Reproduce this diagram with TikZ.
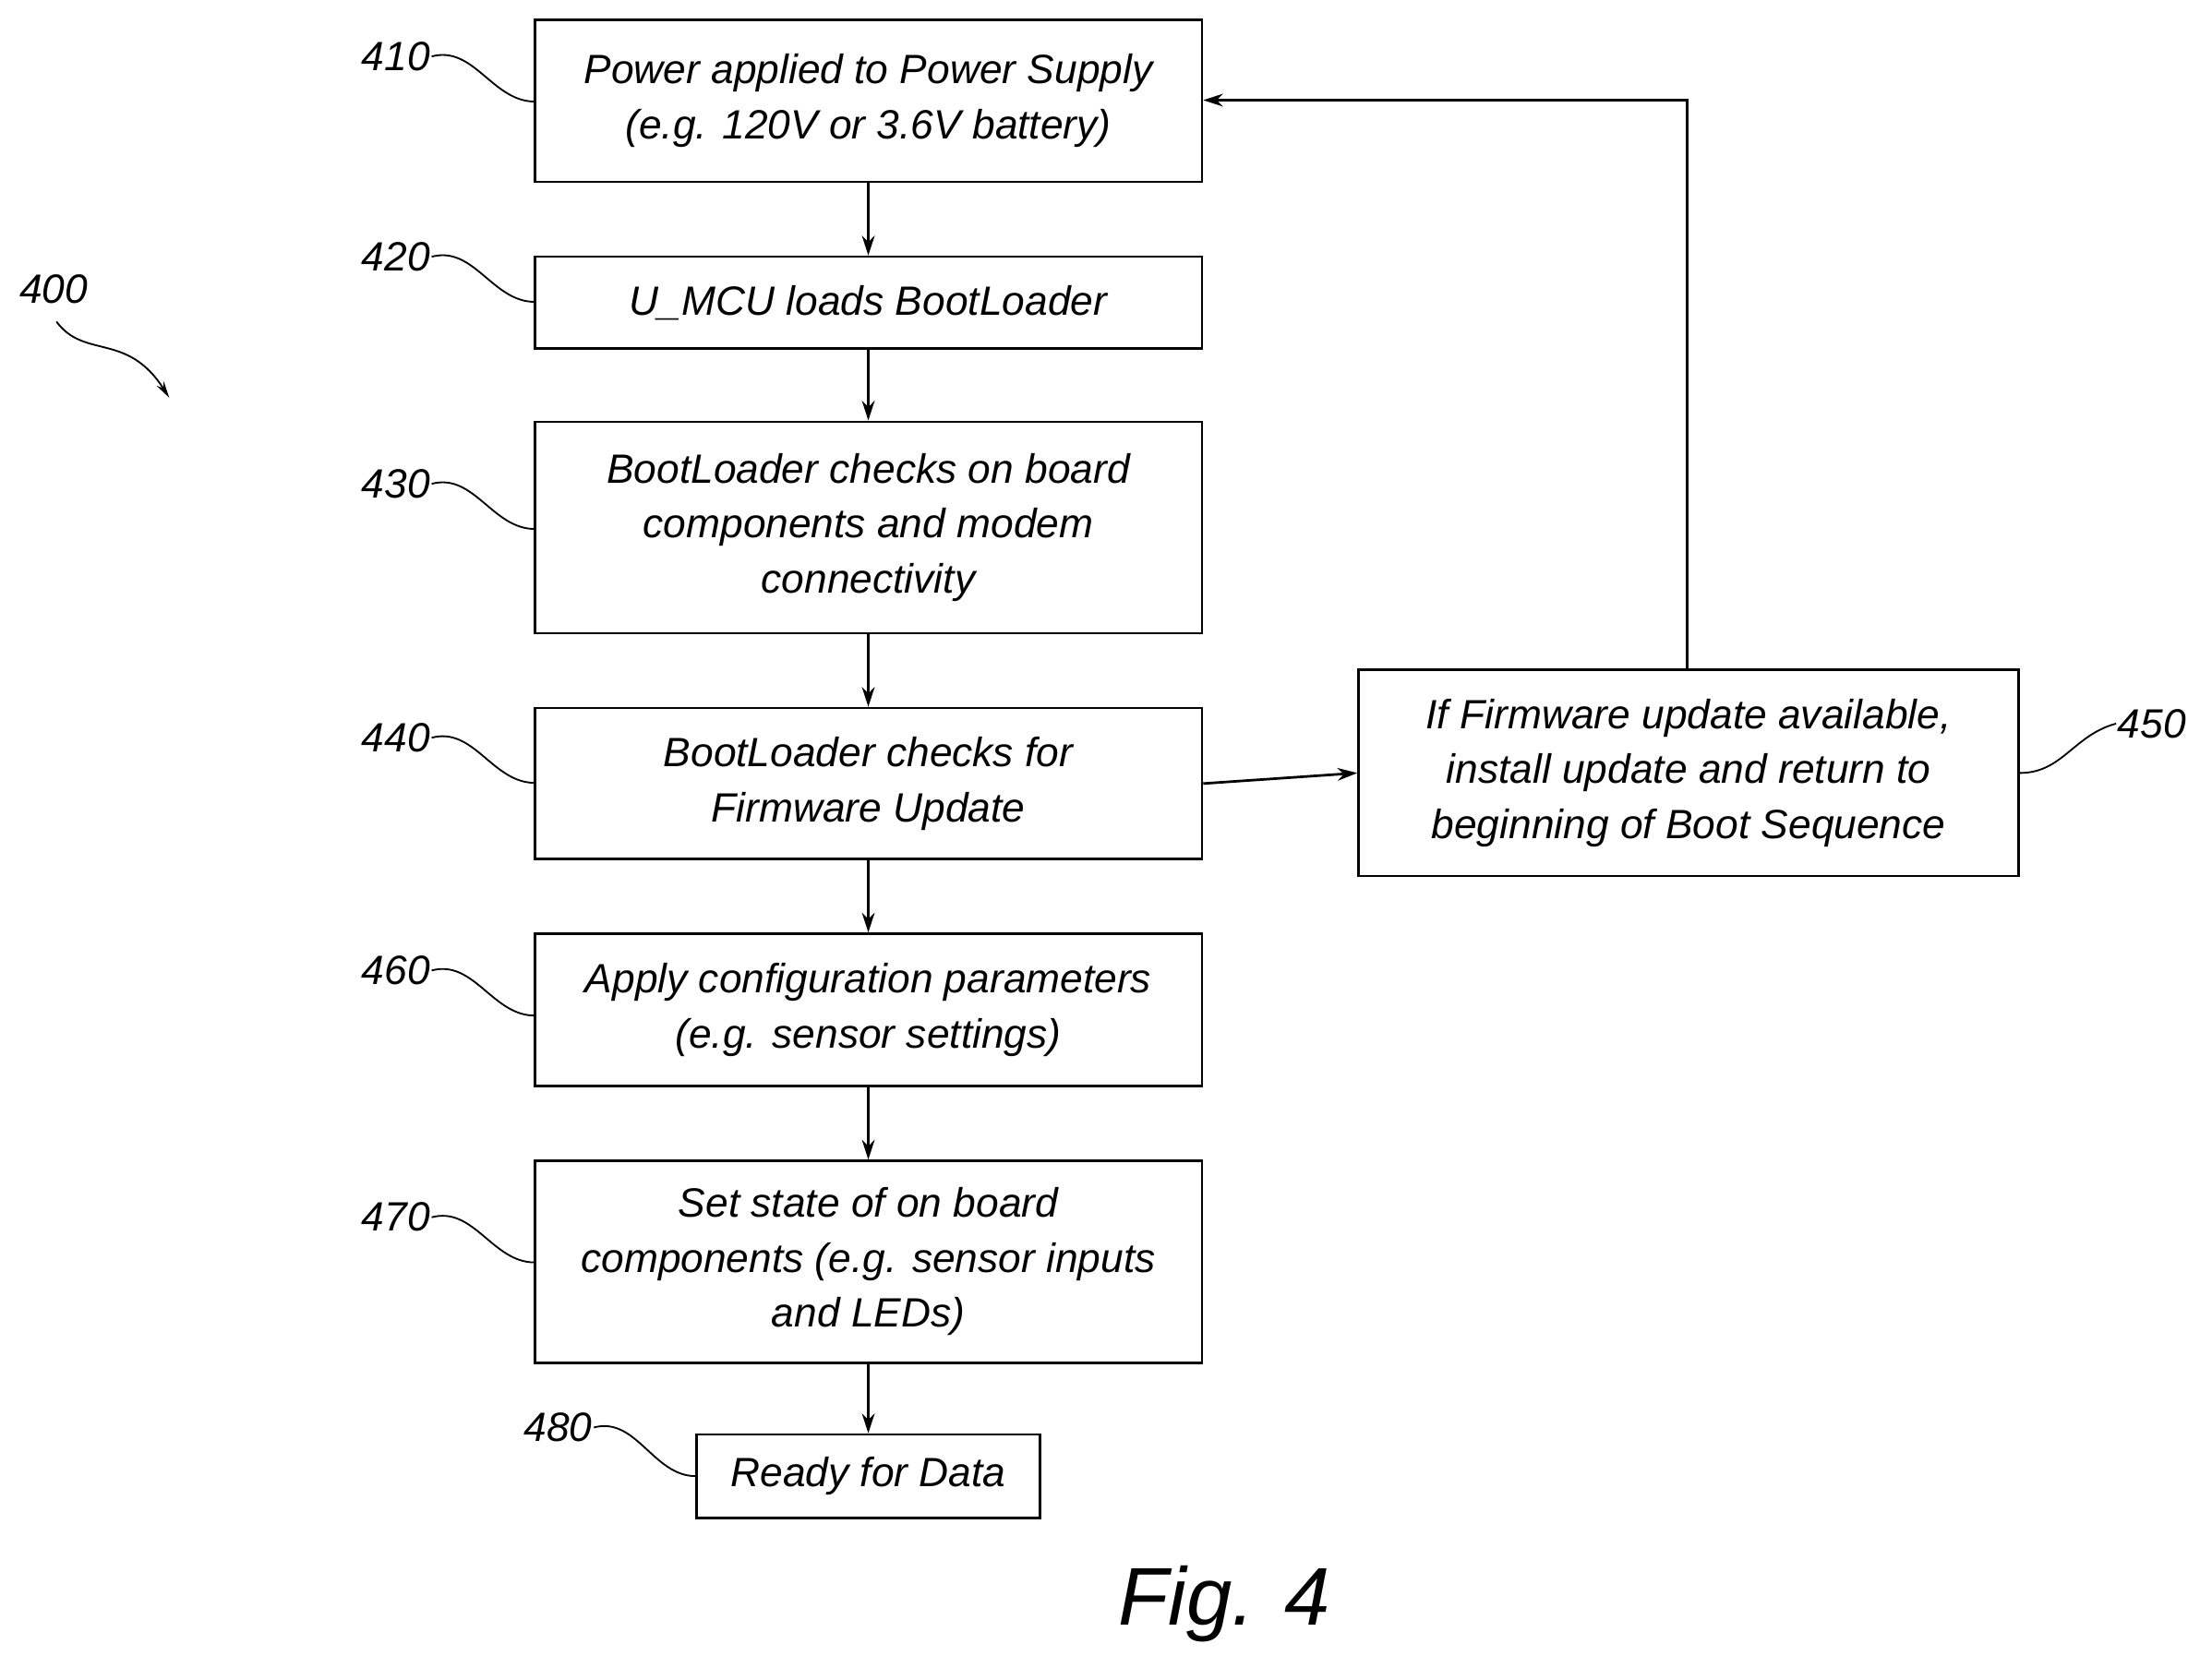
\documentclass[tikz,border=0pt]{standalone}
\usepackage{fontspec}
\setmainfont{Liberation Sans}
\usetikzlibrary{arrows.meta}
\begin{document}
\begin{tikzpicture}[x=1pt,y=-1pt,
 box/.style={draw,line width=1.8pt,inner sep=0pt,align=center,font=\fontsize{29}{39}\selectfont\itshape},
 lab/.style={font=\fontsize{29}{34}\selectfont\itshape,inner sep=1pt},
 arr/.style={line width=1.8pt,-{Stealth[length=14pt,width=9pt]}},
 sq/.style={line width=1.2pt}]
\useasboundingbox (0,0) rectangle (1568,1191);
\node[box,minimum width=473pt,minimum height=115pt] (b410) at (615.5,71.5) {Power applied to Power Supply\\(e.g. 120V or 3.6V battery)};
\node[box,minimum width=473pt,minimum height=65pt] (b420) at (615.5,214.5) {U\_MCU loads BootLoader};
\node[box,minimum width=473pt,minimum height=150pt] (b430) at (615.5,374) {BootLoader checks on board\\components and modem\\connectivity};
\node[box,minimum width=473pt,minimum height=107pt] (b440) at (615.5,555.5) {BootLoader checks for\\Firmware Update};
\node[box,minimum width=468pt,minimum height=146pt] (b450) at (1197,548) {If Firmware update available,\\install update and return to\\beginning of Boot Sequence};
\node[box,minimum width=473pt,minimum height=108pt] (b460) at (615.5,716) {Apply configuration parameters\\(e.g. sensor settings)};
\node[box,minimum width=473pt,minimum height=143pt] (b470) at (615.5,894.5) {Set state of on board\\components (e.g. sensor inputs\\and LEDs)};
\node[box,minimum width=243pt,minimum height=59pt] (b480) at (615.5,1046.5) {Ready for Data};
\draw[arr] (b410) -- (b420);
\draw[arr] (b420) -- (b430);
\draw[arr] (b430) -- (b440);
\draw[arr] (b440) -- (b460);
\draw[arr] (b460) -- (b470);
\draw[arr] (b470) -- (b480);
\draw[arr] (b440.east) -- (b450.west);
\coordinate (c1) at (1196,71);
\draw[arr] (b450.north -| c1) -- (c1) -- (b410.east |- c1);
\foreach \n/\y in {410/40,420/182,430/343,440/523,460/688,470/863}{
 \node[lab,anchor=east] (l\n) at (306,\y) {\n};
 \pgfmathsetmacro\yy{\y+32}
 \draw[sq] (l\n.east) .. controls +(30,-8) and +(-30,0) .. (379,\yy);
}
\node[lab,anchor=east] (l480) at (421,1012) {480};
\draw[sq] (l480.east) .. controls +(30,-8) and +(-30,0) .. (b480.west);
\node[lab,anchor=west] (l450) at (1500,513) {450};
\draw[sq] (b450.east) .. controls +(30,0) and +(-30,8) .. (l450.west);
\node[lab] (l400) at (38,205) {400};
\coordinate (t400) at (120,282);
\draw[sq,-{Stealth[length=12pt,width=6pt]}] (40,228) .. controls (60,255) and (90,235) .. (t400);
\node[font=\fontsize{58}{60}\selectfont\itshape\rmfamily] (fig) at (868,1137) {Fig. 4};
\end{tikzpicture}
\end{document}
